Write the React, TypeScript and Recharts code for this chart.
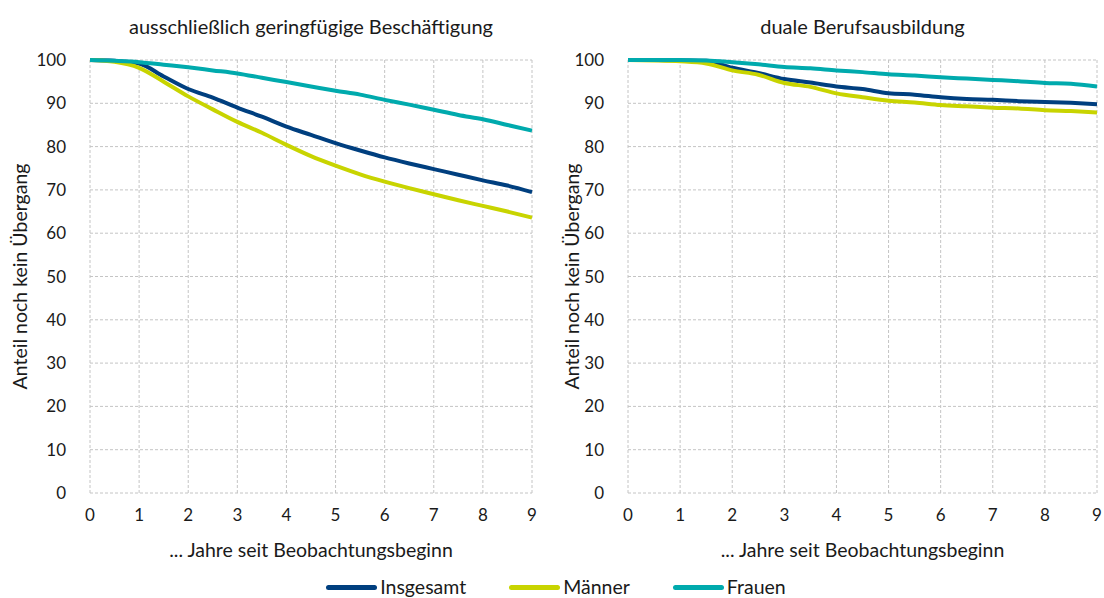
import React from "react";
import { LineChart, Line, XAxis, YAxis, CartesianGrid } from "recharts";

const years = [0, 0.5, 1, 1.5, 2, 2.5, 3, 3.5, 4, 4.5, 5, 5.5, 6, 6.5, 7, 7.5, 8, 8.5, 9];
const xTicks = [0, 1, 2, 3, 4, 5, 6, 7, 8, 9];
const yTicks = [0, 10, 20, 30, 40, 50, 60, 70, 80, 90, 100];

const leftTitle = "ausschließlich geringfügige Beschäftigung";
const rightTitle = "duale Berufsausbildung";
const yLabel = "Anteil noch kein Übergang";
const xLabel = "... Jahre seit Beobachtungsbeginn";

const leftInsgesamt = [100, 99.8, 99.2, 96.2, 93.3, 91.3, 89.0, 86.9, 84.6, 82.7, 80.8, 79.1, 77.5, 76.1, 74.8, 73.5, 72.2, 71.0, 69.5];
const leftMaenner = [100, 99.6, 98.2, 95.0, 91.6, 88.6, 85.7, 83.2, 80.4, 77.8, 75.6, 73.6, 71.9, 70.4, 69.0, 67.6, 66.3, 65.0, 63.6];
const leftFrauen = [100, 99.8, 99.5, 98.9, 98.3, 97.6, 96.9, 95.9, 94.9, 93.9, 92.9, 92.0, 90.8, 89.7, 88.5, 87.3, 86.3, 85.0, 83.7];

const rightInsgesamt = [100, 100, 99.9, 99.8, 98.2, 97.0, 95.6, 94.8, 93.9, 93.3, 92.3, 92.0, 91.4, 91.0, 90.8, 90.5, 90.3, 90.1, 89.8];
const rightMaenner = [100, 99.9, 99.7, 99.2, 97.6, 96.6, 94.7, 93.8, 92.3, 91.4, 90.6, 90.2, 89.6, 89.3, 89.0, 88.8, 88.4, 88.2, 87.9];
const rightFrauen = [100, 100, 100, 99.9, 99.5, 99.0, 98.4, 98.1, 97.6, 97.2, 96.7, 96.4, 96.0, 95.7, 95.4, 95.1, 94.7, 94.5, 93.9];

const series = [
  { key: "insgesamt", name: "Insgesamt", color: "#003f7f" },
  { key: "maenner", name: "Männer", color: "#c8d400" },
  { key: "frauen", name: "Frauen", color: "#00aaad" },
];

const FONT = "Lato, 'Noto Sans', sans-serif";

function build(a: number[], b: number[], c: number[]) {
  return years.map((y, i) => ({ year: y, insgesamt: a[i], maenner: b[i], frauen: c[i] }));
}

const leftData = build(leftInsgesamt, leftMaenner, leftFrauen);
const rightData = build(rightInsgesamt, rightMaenner, rightFrauen);

function Panel({ data, yAxisWidth, rightMargin, yLabelOffset }: { data: any[]; yAxisWidth: number; rightMargin: number; yLabelOffset: number }) {
  const tick = { fill: "#1a1a1a", fontSize: 17, fontFamily: FONT };
  return (
    <LineChart width={552} height={598} data={data} margin={{ top: 60, right: rightMargin, left: 0, bottom: 38 }}>
      <CartesianGrid stroke="#c4c4c4" strokeDasharray="3 2" />
      <XAxis
        dataKey="year"
        type="number"
        domain={[0, 9]}
        ticks={xTicks}
        axisLine={false}
        tickLine={false}
        tick={tick}
        tickMargin={10}
        height={67}
        label={{ value: xLabel, position: "insideBottom", offset: 3, fill: "#1a1a1a", fontSize: 19.5, fontFamily: FONT }}
      />
      <YAxis
        type="number"
        domain={[0, 100]}
        ticks={yTicks}
        axisLine={false}
        tickLine={false}
        tick={tick}
        tickMargin={18}
        width={yAxisWidth}
        label={{ value: yLabel, angle: -90, position: "insideLeft", offset: yLabelOffset, style: { textAnchor: "middle" }, fill: "#1a1a1a", fontSize: 19.5, fontFamily: FONT }}
      />
      {series.map((s) => (
        <Line
          key={s.key}
          dataKey={s.key}
          name={s.name}
          stroke={s.color}
          strokeWidth={4}
          dot={false}
          type="monotone"
          isAnimationActive={false}
        />
      ))}
    </LineChart>
  );
}

export default function App() {
  return (
    <div style={{ position: "absolute", left: 0, top: 0, width: 1104, height: 598, background: "#fff", fontFamily: FONT, color: "#1a1a1a", overflow: "hidden" }}>
      <div style={{ position: "absolute", left: 0, top: 0 }}>
        <Panel data={leftData} yAxisWidth={90} rightMargin={20} yLabelOffset={20} />
      </div>
      <div style={{ position: "absolute", left: 552, top: 0 }}>
        <Panel data={rightData} yAxisWidth={76} rightMargin={7} yLabelOffset={20} />
      </div>
      <div style={{ position: "absolute", left: 90, width: 442, top: 14, textAlign: "center", fontSize: 20 }}>{leftTitle}</div>
      <div style={{ position: "absolute", left: 628, width: 469, top: 14, textAlign: "center", fontSize: 20 }}>{rightTitle}</div>
      <div style={{ position: "absolute", left: 4, width: 1104, top: 576, display: "flex", justifyContent: "center", alignItems: "center", fontSize: 19.5, lineHeight: "22px" }}>
        {series.map((s, i) => (
          <div key={s.key} style={{ display: "flex", alignItems: "center", marginLeft: i === 0 ? 0 : 43 }}>
            <div style={{ width: 51, height: 5, borderRadius: 3, background: s.color, marginRight: 3 }} />
            <span>{s.name}</span>
          </div>
        ))}
      </div>
    </div>
  );
}
